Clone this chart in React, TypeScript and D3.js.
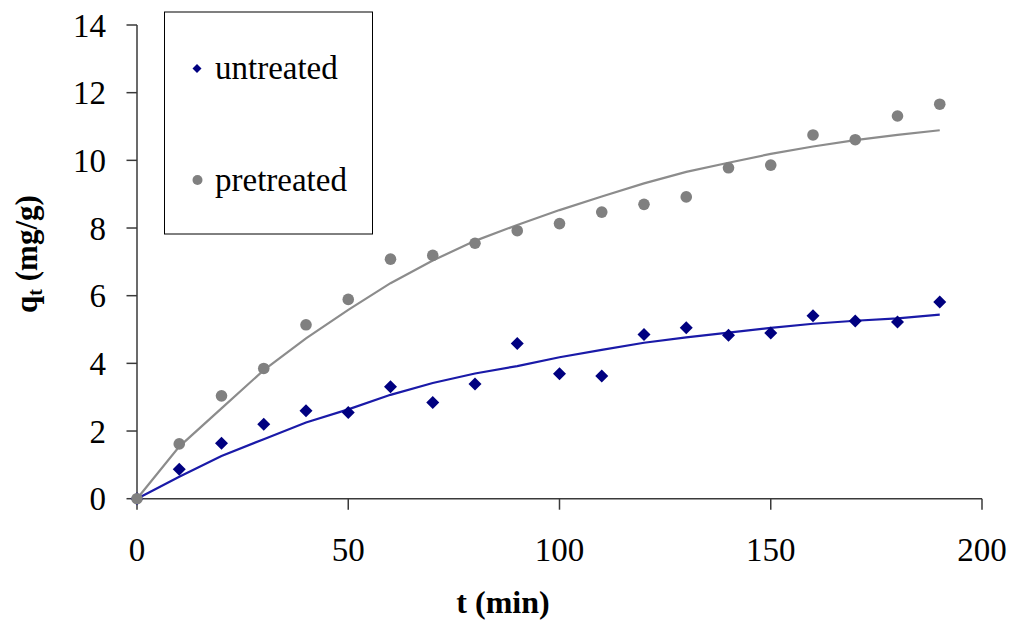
import React from "react";
import * as d3 from "d3";

const times = [0, 10, 20, 30, 40, 50, 60, 70, 80, 90, 100, 110, 120, 130, 140, 150, 160, 170, 180, 190];
const untreated = [0, 0.87, 1.64, 2.2, 2.6, 2.55, 3.31, 2.84, 3.39, 4.59, 3.69, 3.63, 4.85, 5.05, 4.83, 4.9, 5.41, 5.25, 5.22, 5.81];
const pretreated = [0, 1.62, 3.04, 3.85, 5.14, 5.89, 7.08, 7.19, 7.55, 7.92, 8.13, 8.47, 8.7, 8.92, 9.78, 9.86, 10.75, 10.61, 11.31, 11.66];
const untreatedFit = [0, 0.65, 1.26, 1.76, 2.25, 2.64, 3.07, 3.42, 3.7, 3.92, 4.18, 4.4, 4.61, 4.77, 4.91, 5.05, 5.17, 5.26, 5.33, 5.44];
const pretreatedFit = [0, 1.54, 2.67, 3.8, 4.74, 5.58, 6.37, 7.04, 7.62, 8.09, 8.53, 8.93, 9.32, 9.66, 9.93, 10.19, 10.41, 10.6, 10.75, 10.89];
const xTicks = [0, 50, 100, 150, 200];
const yTicks = [0, 2, 4, 6, 8, 10, 12, 14];

const W = 1011;
const H = 621;
const FONT = '"Liberation Serif", Tinos, "Times New Roman", "DejaVu Serif", serif';

export default function App() {
  const x = d3.scaleLinear().domain([0, 200]).range([137, 982]);
  const y = d3.scaleLinear().domain([0, 14]).range([498.7, 25]);
  const line = d3
    .line<number>()
    .x((_, i) => x(times[i]))
    .y((d) => y(d));
  const diamond = (cx: number, cy: number, r: number) =>
    `M${cx},${cy - r}L${cx + r},${cy}L${cx},${cy + r}L${cx - r},${cy}Z`;
  const axisColor = "#3a3a3a";

  return (
    <svg
      width={W}
      height={H}
      style={{ position: "absolute", left: 0, top: 0, background: "#fff", fontFamily: FONT }}
    >
      {/* axes */}
      <line x1={x(0)} x2={x(0)} y1={y(14)} y2={y(0)} stroke={axisColor} strokeWidth={1.5} />
      <line x1={x(0)} x2={x(200)} y1={y(0)} y2={y(0)} stroke={axisColor} strokeWidth={1.5} />
      {yTicks.map((t) => (
        <g key={"y" + t}>
          <line x1={x(0) - 10.5} x2={x(0)} y1={y(t)} y2={y(t)} stroke={axisColor} strokeWidth={1.5} />
          <text x={106} y={y(t) + 11.5} textAnchor="end" fontSize={33} fill="#000">
            {t}
          </text>
        </g>
      ))}
      {xTicks.map((t) => (
        <g key={"x" + t}>
          <line x1={x(t)} x2={x(t)} y1={y(0)} y2={y(0) + 11} stroke={axisColor} strokeWidth={1.5} />
          <text x={x(t)} y={561} textAnchor="middle" fontSize={33} fill="#000">
            {t}
          </text>
        </g>
      ))}

      {/* fitted lines */}
      <path d={line(pretreatedFit) || ""} fill="none" stroke="#8c8c8c" strokeWidth={2.2} />
      <path d={line(untreatedFit) || ""} fill="none" stroke="#1a1aa8" strokeWidth={2.2} />

      {/* points */}
      {untreated.map((v, i) => (
        <path key={"u" + i} d={diamond(x(times[i]), y(v), 6.5)} fill="#000080" />
      ))}
      {pretreated.map((v, i) => (
        <circle key={"p" + i} cx={x(times[i])} cy={y(v)} r={5.8} fill="#808080" />
      ))}

      {/* axis titles */}
      <text x={503} y={613} textAnchor="middle" fontSize={32} fontWeight="bold" fill="#000">
        t (min)
      </text>
      <text
        transform={`translate(37,254) rotate(-90)`}
        textAnchor="middle"
        fontSize={31}
        fontWeight="bold"
        fill="#000"
      >
        q<tspan fontSize={20} dy={5}>t</tspan>
        <tspan dy={-5}> (mg/g)</tspan>
      </text>

      {/* legend */}
      <rect x={164.5} y={12} width={208} height={222} fill="#fff" stroke="#000" strokeWidth={1} />
      <path d={diamond(197, 68.5, 4.5)} fill="#000080" />
      <text x={215} y={79} fontSize={33} fill="#000">
        untreated
      </text>
      <circle cx={197.5} cy={180} r={5} fill="#808080" />
      <text x={215} y={191} fontSize={33} fill="#000">
        pretreated
      </text>
    </svg>
  );
}
